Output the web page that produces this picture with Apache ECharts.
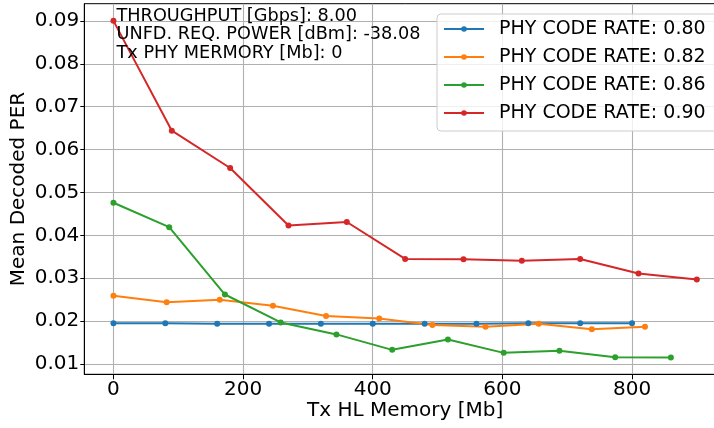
<!DOCTYPE html>
<html>
<head>
<meta charset="utf-8">
<script src="https://cdn.jsdelivr.net/npm/echarts@6/dist/echarts.min.js"></script>
<style>
  html, body { margin: 0; padding: 0; background: #fff; overflow: hidden; width: 714px; height: 428px; }
  /* the plot frame runs past the right edge of the view, so the canvas is a bit wider */
  #chart { width: 740px; height: 428px; }
</style>
</head>
<body>
<div id="chart"></div>
<script>
// Mean decoded PER versus Tx HL memory, one line per PHY code rate
const seriesNames = ['PHY CODE RATE: 0.80', 'PHY CODE RATE: 0.82', 'PHY CODE RATE: 0.86', 'PHY CODE RATE: 0.90'];
const seriesColors = ['#1f77b4', '#ff7f0e', '#2ca02c', '#d62728'];

const memRate080 = [0, 80, 160, 240, 320, 400, 480, 560, 640, 720, 800];
const perRate080 = [0.0195, 0.0195, 0.0194, 0.0194, 0.0194, 0.0194, 0.0194, 0.0194, 0.0195, 0.0195, 0.0195];

const memRate082 = [0, 82, 164, 246, 328, 410, 492, 574, 656, 738, 820];
const perRate082 = [0.0259, 0.0244, 0.0250, 0.0236, 0.0212, 0.0206, 0.0191, 0.0187, 0.0194, 0.0181, 0.0187];

const memRate086 = [0, 86, 172, 258, 344, 430, 516, 602, 688, 774, 860];
const perRate086 = [0.0476, 0.0419, 0.0262, 0.0197, 0.0169, 0.0133, 0.0157, 0.0126, 0.0131, 0.0116, 0.0115];

const memRate090 = [0, 90, 180, 270, 360, 450, 540, 630, 720, 810, 900];
const perRate090 = [0.0900, 0.0644, 0.0557, 0.0423, 0.0431, 0.0345, 0.0344, 0.0341, 0.0345, 0.0311, 0.0297];

const xTicks = [0, 200, 400, 600, 800];
const yTicks = [0.01, 0.02, 0.03, 0.04, 0.05, 0.06, 0.07, 0.08, 0.09];

const infoLines = [
  'THROUGHPUT [Gbps]: 8.00',
  'UNFD. REQ. POWER [dBm]: -38.08',
  'Tx PHY MERMORY [Mb]: 0'
];

const FONT = 'DejaVu Sans';
const X_MIN = -45, X_MAX = 945;
const pairs = (xs, ys) => xs.map((x, i) => [x, ys[i]]);
const allSeries = [
  pairs(memRate080, perRate080),
  pairs(memRate082, perRate082),
  pairs(memRate086, perRate086),
  pairs(memRate090, perRate090)
];

const chart = echarts.init(document.getElementById('chart'), null, { renderer: 'canvas', width: 740, height: 428 });

chart.setOption({
  animation: false,
  backgroundColor: '#fff',
  textStyle: { fontFamily: FONT },
  grid: {
    left: 84.3, top: 3.7, width: 641.7, height: 370.6,
    outerBoundsMode: 'none',
    containLabel: false,
    show: true, borderColor: '#000', borderWidth: 1, backgroundColor: 'transparent'
  },
  xAxis: {
    type: 'value',
    min: X_MIN, max: X_MAX,
    name: 'Tx HL Memory [Mb]',
    nameLocation: 'middle',
    nameGap: 26,
    nameMoveOverlap: false,
    nameTextStyle: { fontSize: 20, color: '#000', fontFamily: FONT },
    axisLine: { show: true, onZero: false, lineStyle: { color: '#000', width: 1 } },
    axisTick: { show: true, length: 5, customValues: xTicks, lineStyle: { color: '#000', width: 1 } },
    axisLabel: { customValues: xTicks, fontSize: 20, color: '#000', margin: 5, fontFamily: FONT },
    splitLine: { show: true, lineStyle: { color: '#b0b0b0', width: 1.1 } }
  },
  yAxis: {
    type: 'value',
    min: 0.0076, max: 0.094,
    name: 'Mean Decoded PER',
    nameLocation: 'middle',
    nameGap: 56,
    nameMoveOverlap: false,
    nameTextStyle: { fontSize: 20, color: '#000', fontFamily: FONT },
    axisLine: { show: true, onZero: false, lineStyle: { color: '#000', width: 1 } },
    axisTick: { show: true, length: 4, customValues: yTicks, lineStyle: { color: '#000', width: 1 } },
    axisLabel: {
      customValues: yTicks, fontSize: 20, color: '#000', margin: 5, fontFamily: FONT,
      formatter: v => v.toFixed(2)
    },
    splitLine: { show: true, lineStyle: { color: '#b0b0b0', width: 1.1 } }
  },
  legend: {
    orient: 'vertical',
    left: 437, top: 14,
    padding: [4, 12, 7, 6],
    itemWidth: 40, itemHeight: 7, itemGap: 6,
    backgroundColor: 'rgba(255,255,255,0.8)',
    borderColor: '#cccccc', borderWidth: 1, borderRadius: 4,
    textStyle: { fontSize: 19, color: '#000', lineHeight: 22, padding: [0, 0, 0, 10], fontFamily: FONT },
    data: seriesNames
  },
  graphic: [{
    type: 'text',
    left: 116.5, top: 7,
    z: 10,
    style: {
      text: infoLines.join('\n'),
      font: '17.7px "' + FONT + '"',
      lineHeight: 18.5,
      fill: '#000'
    }
  }],
  series: allSeries.map((d, i) => ({
    name: seriesNames[i],
    type: 'line',
    data: d,
    symbol: 'circle',
    symbolSize: 6,
    showSymbol: true,
    color: seriesColors[i],
    lineStyle: { width: 2, color: seriesColors[i] },
    itemStyle: { color: seriesColors[i] },
    emphasis: { disabled: true }
  }))
});
</script>
</body>
</html>
